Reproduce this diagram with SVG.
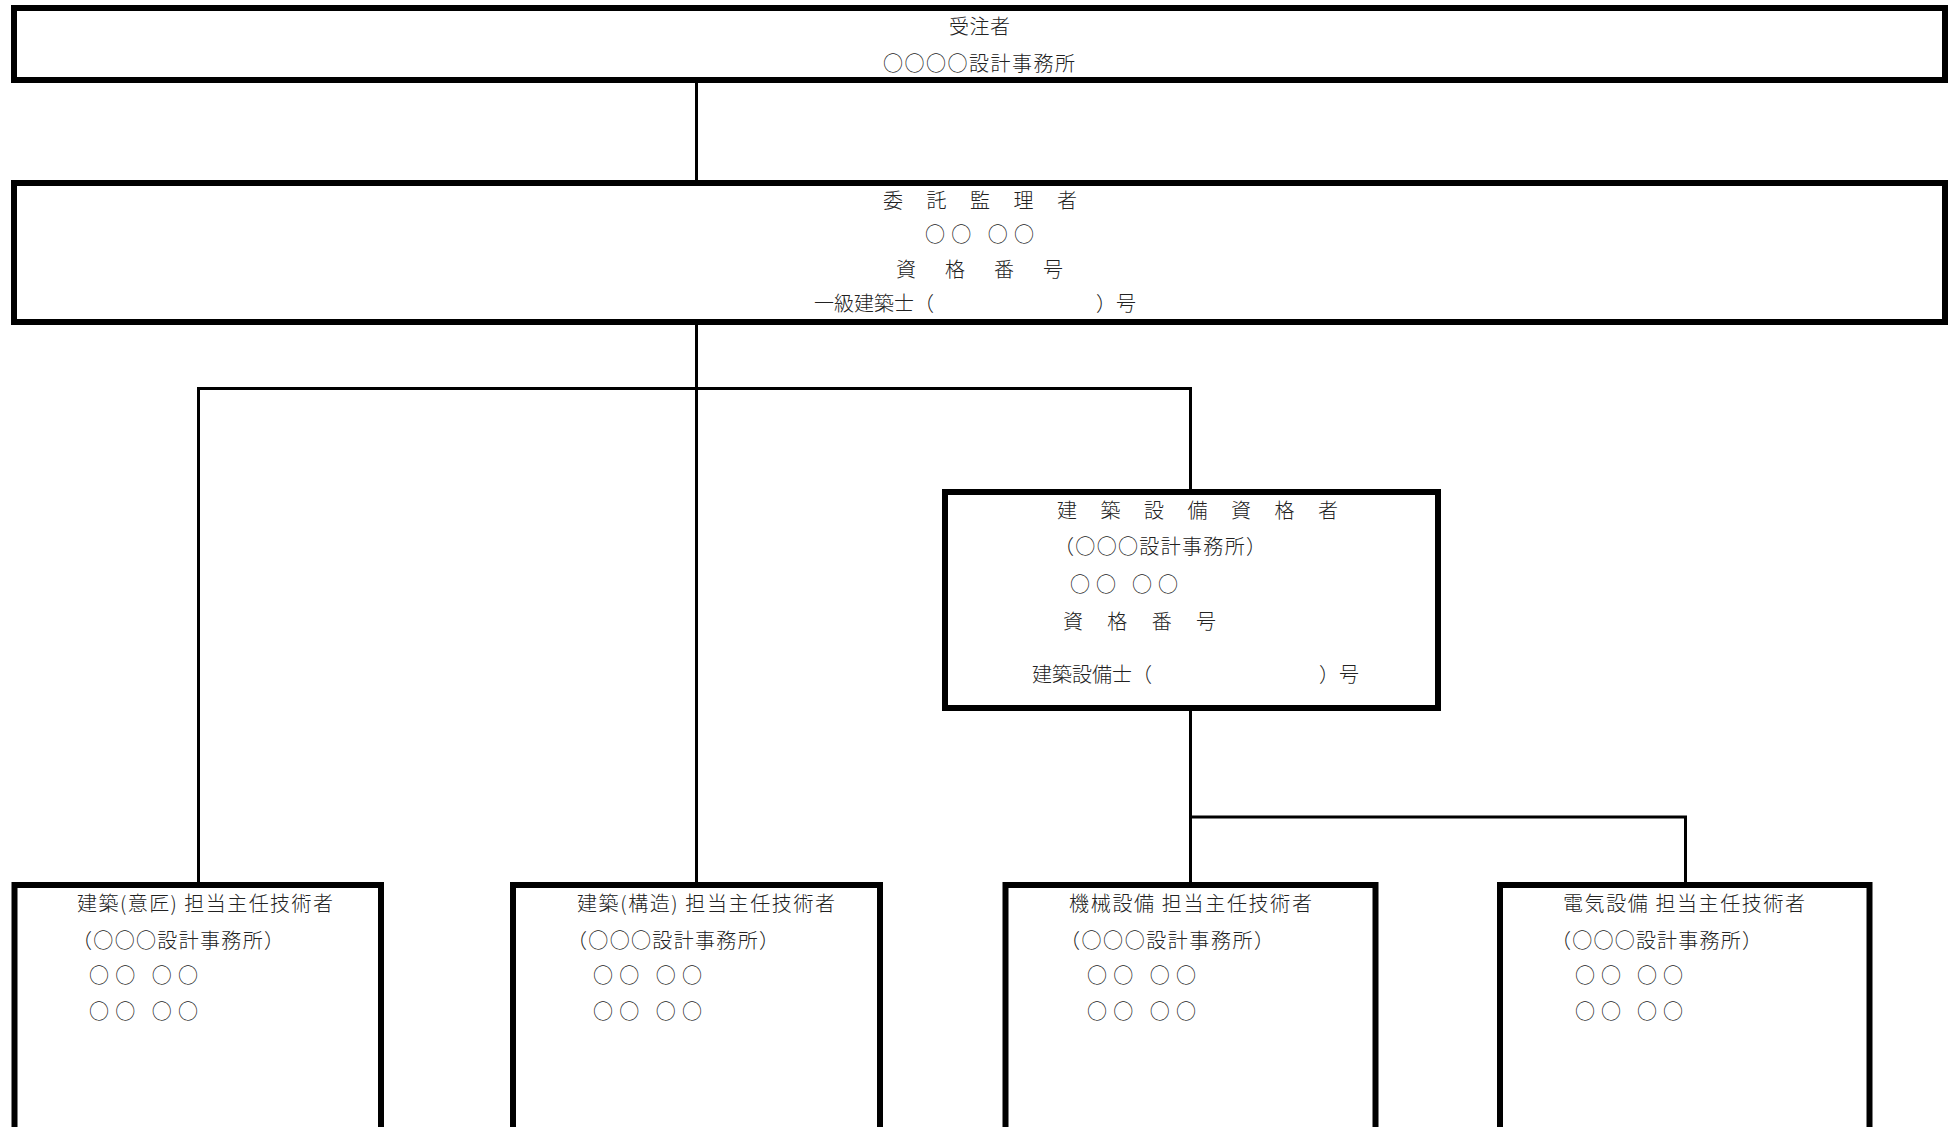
<svg xmlns="http://www.w3.org/2000/svg" width="1955" height="1127" viewBox="0 0 1955 1127">
<style>
.box{fill:#fff;stroke:#000;stroke-width:6}
.con{fill:none;stroke:#000;stroke-width:3}
text{font-family:"Noto Sans CJK JP","Noto Sans",sans-serif;font-size:20px;font-weight:300;fill:#222;dominant-baseline:central}
</style>
<rect width="1955" height="1127" fill="#fff"/>
<g id="connectors">
<line class="con" x1="696.5" y1="83" x2="696.5" y2="180"/>
<line class="con" x1="696.5" y1="325" x2="696.5" y2="882"/>
<polyline class="con" points="198.5,882 198.5,388.5 1190.5,388.5 1190.5,489"/>
<line class="con" x1="1190.5" y1="711" x2="1190.5" y2="882"/>
<polyline class="con" points="1190.5,817 1685.5,817 1685.5,882"/>
</g>
<g id="contractor">
<rect class="box" x="14" y="8" width="1931" height="72"/>
<text x="949" y="25" textLength="61" lengthAdjust="spacing">受注者</text>
<text x="883" y="62" textLength="192" lengthAdjust="spacing">○○○○設計事務所</text>
</g>
<g id="supervisor">
<rect class="box" x="14" y="183" width="1931" height="139"/>
<text x="883" y="199" textLength="194" lengthAdjust="spacing">委 託 監 理 者</text>
<text x="925" y="233" textLength="109" lengthAdjust="spacing">○○ ○○</text>
<text x="896" y="268" textLength="167" lengthAdjust="spacing">資 格 番 号</text>
<text x="814" y="302">一級建築士（<tspan x="1096">）号</tspan></text>
</g>
<g id="equipment-qualified">
<rect class="box" x="945" y="492" width="493" height="216"/>
<text x="1057" y="509" textLength="281" lengthAdjust="spacing">建 築 設 備 資 格 者</text>
<text x="1054" y="545" textLength="212" lengthAdjust="spacing">（○○○設計事務所）</text>
<text x="1070" y="583" textLength="108" lengthAdjust="spacing">○○ ○○</text>
<text x="1063" y="620" textLength="153" lengthAdjust="spacing">資 格 番 号</text>
<text x="1032" y="673">建築設備士（<tspan x="1319">）号</tspan></text>
</g>
<g id="arch-design">
<rect class="box" x="14.5" y="885" width="366.5" height="300"/>
<text x="77" y="902" textLength="256" lengthAdjust="spacing">建築(意匠) 担当主任技術者</text>
<text x="72" y="939" textLength="212" lengthAdjust="spacing">（○○○設計事務所）</text>
<text x="89" y="974" textLength="109" lengthAdjust="spacing">○○ ○○</text>
<text x="89" y="1010" textLength="109" lengthAdjust="spacing">○○ ○○</text>
</g>
<g id="arch-structure">
<rect class="box" x="513" y="885" width="367" height="300"/>
<text x="577" y="902" textLength="258" lengthAdjust="spacing">建築(構造) 担当主任技術者</text>
<text x="567" y="939" textLength="212" lengthAdjust="spacing">（○○○設計事務所）</text>
<text x="593" y="974" textLength="109" lengthAdjust="spacing">○○ ○○</text>
<text x="593" y="1010" textLength="109" lengthAdjust="spacing">○○ ○○</text>
</g>
<g id="mechanical">
<rect class="box" x="1005.5" y="885" width="370" height="300"/>
<text x="1069" y="902" textLength="243" lengthAdjust="spacing">機械設備 担当主任技術者</text>
<text x="1060" y="939" textLength="214" lengthAdjust="spacing">（○○○設計事務所）</text>
<text x="1087" y="974" textLength="109" lengthAdjust="spacing">○○ ○○</text>
<text x="1087" y="1010" textLength="109" lengthAdjust="spacing">○○ ○○</text>
</g>
<g id="electrical">
<rect class="box" x="1500" y="885" width="369.5" height="300"/>
<text x="1563" y="902" textLength="242" lengthAdjust="spacing">電気設備 担当主任技術者</text>
<text x="1551" y="939" textLength="211" lengthAdjust="spacing">（○○○設計事務所）</text>
<text x="1575" y="974" textLength="108" lengthAdjust="spacing">○○ ○○</text>
<text x="1575" y="1010" textLength="108" lengthAdjust="spacing">○○ ○○</text>
</g>
</svg>
